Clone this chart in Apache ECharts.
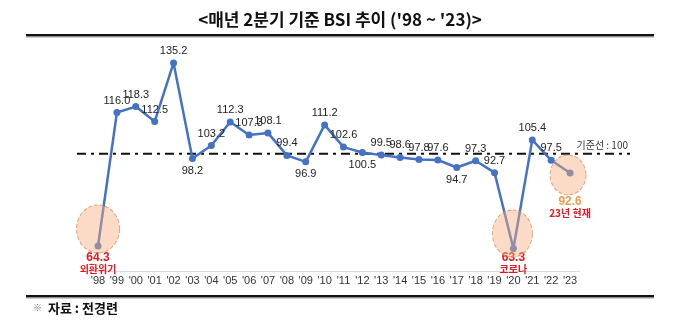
<!DOCTYPE html>
<html>
<head>
<meta charset="utf-8">
<script src="https://cdn.jsdelivr.net/npm/echarts@6/dist/echarts.min.js"></script>
<style>
  html, body { margin: 0; padding: 0; background: #fff; }
  #chart { width: 680px; height: 323px; }
</style>
</head>
<body>
<div id="chart"></div>
<script>
// Q2 BSI by year, 1998-2023
const years = ["'98", "'99", "'00", "'01", "'02", "'03", "'04", "'05", "'06", "'07", "'08", "'09", "'10",
               "'11", "'12", "'13", "'14", "'15", "'16", "'17", "'18", "'19", "'20", "'21", "'22", "'23"];
const bsi = [64.3, 116.0, 118.3, 112.5, 135.2, 98.2, 103.2, 112.3, 107.3, 108.1, 99.4, 96.9, 111.2,
             102.6, 100.5, 99.5, 98.6, 97.8, 97.6, 94.7, 97.3, 92.7, 63.3, 105.4, 97.5, 92.6];
// years whose value label sits under the point
const labelBelowYears = ["'03", "'09", "'12", "'17"];
// highlighted years and their notes
const eventYears = ["'98", "'20", "'23"];
const eventNotes = ['외환위기', '코로나', '23년 현재'];
// reference level
const baseline = 100;
const baselineText = '기준선 : 100';
const titleText = "<매년 2분기 기준 BSI 추이 ('98 ~ '23)>";
const sourceText = '자료 : 전경련';

const NARROW = '"Liberation Sans Narrow", "Arial Narrow", "Liberation Sans", sans-serif';
const KR = '"Noto Sans CJK KR", "Noto Sans", sans-serif';
const RED = '#E8141C';
const ORANGE = '#F39A4C';
const BLUE = '#4472C4';

// circle look per highlighted year: [size, offset]
const eventCircle = {
  "'98": { size: [43, 48], offset: [0, -17] },
  "'20": { size: [40, 47], offset: [-1, -15] },
  "'23": { size: [36, 40], offset: [-2, 2] }
};
const eventLabel = {
  "'98": { distance: 2, valueColor: RED },
  "'20": { distance: 0, valueColor: RED },
  "'23": { distance: 19, valueColor: ORANGE }
};

const lineData = bsi.map((v, i) => {
  const y = years[i];
  const ev = eventYears.indexOf(y);
  if (ev >= 0) {
    const cfg = eventLabel[y];
    return {
      value: v,
      label: {
        position: 'bottom',
        distance: cfg.distance,
        formatter: '{v|' + v.toFixed(1) + '}\n{n|' + eventNotes[ev] + '}',
        rich: {
          v: { fontFamily: NARROW, fontSize: 12, fontWeight: 'bold', color: cfg.valueColor, lineHeight: 12, align: 'center' },
          n: { fontFamily: KR, fontSize: 10, fontWeight: 'bold', color: RED, lineHeight: 11, align: 'center' }
        }
      }
    };
  }
  if (labelBelowYears.indexOf(y) >= 0) {
    return { value: v, label: { position: 'bottom', distance: 3 } };
  }
  return v;
});

const circleData = eventYears.map(y => {
  const c = eventCircle[y];
  return {
    value: [y, bsi[years.indexOf(y)]],
    symbolSize: c.size,
    symbolOffset: c.offset
  };
});

const chart = echarts.init(document.getElementById('chart'), null, { renderer: 'canvas' });

const option = {
  backgroundColor: '#fff',
  animation: false,
  title: {
    text: titleText,
    left: 'center',
    top: 6,
    textStyle: { fontFamily: KR, fontSize: 17, fontWeight: 'bold', color: '#111' }
  },
  grid: [
    { left: 88.6, right: 100.5, top: 50.6, height: 220.4 },
    { left: 77, right: 50, top: 50.6, height: 220.4 }
  ],
  xAxis: [
    {
      type: 'category', gridIndex: 0, data: years, boundaryGap: true,
      axisLine: { lineStyle: { color: '#DADADA', width: 1 } },
      axisTick: { show: false },
      axisLabel: { margin: 4, fontFamily: NARROW, fontSize: 11, color: '#333' }
    },
    { type: 'value', gridIndex: 1, min: 0, max: 1, show: false }
  ],
  yAxis: [
    { type: 'value', gridIndex: 0, min: 54.6, max: 140, show: false, splitLine: { show: false } },
    { type: 'value', gridIndex: 1, min: 54.6, max: 140, show: false, splitLine: { show: false } }
  ],
  series: [
    {
      type: 'line', xAxisIndex: 1, yAxisIndex: 1, z: 1,
      data: [[0, baseline], [1, baseline]],
      symbol: 'none', silent: true,
      lineStyle: { color: '#111', width: 2, type: [9, 5, 3, 5] }
    },
    {
      type: 'line', xAxisIndex: 0, yAxisIndex: 0, z: 3,
      data: lineData,
      symbol: 'circle', symbolSize: 7,
      itemStyle: { color: BLUE },
      lineStyle: { color: BLUE, width: 2.5 },
      label: {
        show: true, position: 'top', distance: 3,
        fontFamily: NARROW, fontSize: 11, color: '#222',
        formatter: p => Number(p.value).toFixed(1)
      }
    },
    {
      type: 'scatter', xAxisIndex: 0, yAxisIndex: 0, z: 4,
      data: circleData, silent: true,
      itemStyle: {
        color: 'rgba(245, 172, 125, 0.55)',
        borderColor: '#D3915C', borderType: 'dashed', borderWidth: 1
      }
    }
  ]
};
chart.setOption(option);

// reference caption placed at the right end of the baseline
const endPt = chart.convertToPixel({ gridIndex: 1 }, [1, baseline]);
chart.setOption({
  graphic: [
    { type: 'rect', shape: { x: 26, y: 34, width: 628, height: 2.5 }, style: { fill: '#111' }, silent: true },
    { type: 'rect', shape: { x: 26, y: 36.5, width: 628, height: 1 }, style: { fill: '#9a9a9a' }, silent: true },
    { type: 'rect', shape: { x: 26, y: 295, width: 628, height: 2.5 }, style: { fill: '#111' }, silent: true },
    { type: 'rect', shape: { x: 26, y: 297.5, width: 628, height: 1 }, style: { fill: '#9a9a9a' }, silent: true },
    {
      type: 'text', x: endPt[0] - 2, y: endPt[1] - 9,
      style: { text: baselineText, fontFamily: KR, fontSize: 10, fill: '#333', align: 'right', verticalAlign: 'middle' }
    },
    {
      type: 'text', x: 33, y: 308,
      style: { text: '※', fontFamily: KR, fontSize: 9, fill: '#666', verticalAlign: 'middle' }
    },
    {
      type: 'text', x: 48, y: 308,
      style: { text: sourceText, fontFamily: KR, fontSize: 13, fontWeight: 'bold', fill: '#111', verticalAlign: 'middle' }
    }
  ]
});
</script>
</body>
</html>
